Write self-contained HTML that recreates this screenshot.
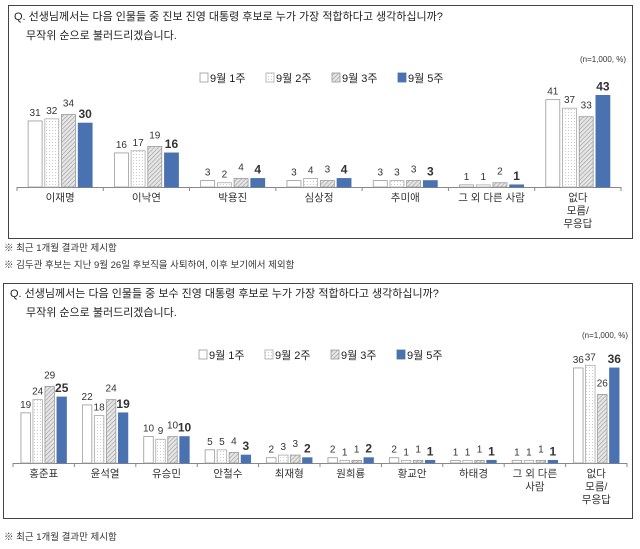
<!DOCTYPE html>
<html><head><meta charset="utf-8"><style>
body{margin:0;background:#fff;width:640px;height:549px;overflow:hidden;font-family:"Liberation Sans","Noto Sans CJK KR",sans-serif}
svg{position:absolute;left:0;top:0}
</style></head><body>
<svg id="s" width="640" height="549" font-family="Liberation Sans, Noto Sans CJK KR, sans-serif">
<defs>
<pattern id="dots" width="3" height="3" patternUnits="userSpaceOnUse"><rect width="3" height="3" fill="#fff"/><circle cx="1.5" cy="1.5" r="0.5" fill="#bbb"/></pattern>
<pattern id="hatch" width="3" height="3" patternUnits="userSpaceOnUse" patternTransform="rotate(45)"><rect width="3" height="3" fill="#e6e6e6"/><line x1="0" y1="0" x2="0" y2="3" stroke="#999" stroke-width="1.2"/></pattern>
</defs>
<rect x="8.5" y="5.5" width="624" height="233" fill="none" stroke="#444"/>
<text x="14" y="20" font-size="11" fill="#222">Q. 선생님께서는 다음 인물들 중 진보 진영 대통령 후보로 누가 가장 적합하다고 생각하십니까?</text>
<text x="26" y="39" font-size="11" fill="#222">무작위 순으로 불러드리겠습니다.</text>
<text x="626" y="62" font-size="8" fill="#333" text-anchor="end">(n=1,000, %)</text>
<rect x="3.5" y="283.5" width="629" height="235" fill="none" stroke="#444"/>
<text x="10" y="297" font-size="11" fill="#222">Q. 선생님께서는 다음 인물들 중 보수 진영 대통령 후보로 누가 가장 적합하다고 생각하십니까?</text>
<text x="26" y="316" font-size="11" fill="#222">무작위 순으로 불러드리겠습니다.</text>
<text x="628" y="338" font-size="8" fill="#333" text-anchor="end">(n=1,000, %)</text>
<text x="4" y="251" font-size="9.5" fill="#333">※ 최근 1개월 결과만 제시함</text>
<text x="4" y="268" font-size="9.5" fill="#333">※ 김두관 후보는 지난 9월 26일 후보직을 사퇴하여, 이후 보기에서 제외함</text>
<text x="4" y="540" font-size="9.5" fill="#333">※ 최근 1개월 결과만 제시함</text>
<g id="g1"></g><g id="g2"></g>
</svg>
<script>
const seriesNames=["9월 1주","9월 2주","9월 3주","9월 5주"];
const topCats=[["이재명"],["이낙연"],["박용진"],["심상정"],["추미애"],["그 외 다른 사람"],["없다","모름/","무응답"]];
const topW1=[31,16,3,3,3,1,41];
const topW2=[32,17,2,4,3,1,37];
const topW3=[34,19,4,3,3,2,33];
const topW5=[30,16,4,4,3,1,43];
const botCats=[["홍준표"],["윤석열"],["유승민"],["안철수"],["최재형"],["원희룡"],["황교안"],["하태경"],["그 외 다른","사람"],["없다","모름/","무응답"]];
const botW1=[19,22,10,5,2,2,2,1,1,36];
const botW2=[24,18,9,5,3,1,1,1,1,37];
const botW3=[29,24,10,4,3,1,1,1,1,26];
const botW5=[25,19,10,3,2,2,1,1,1,36];
const fills=["#fff","url(#dots)","url(#hatch)","#4a72b0"];
const strokes=["#999","#aaa","#999","#4a72b0"];
const NS="http://www.w3.org/2000/svg";
function mk(p,t,a){const e=document.createElementNS(NS,t);for(const k in a)e.setAttribute(k,a[k]);p.appendChild(e);return e;}
function chart(g,cats,series,o){
  const n=cats.length,gw=(o.x1-o.x0)/n;
  const y=v=>o.base-v*o.k;
  const ax=mk(g,'line',{x1:o.x0,x2:o.x1,y1:o.base+.5,y2:o.base+.5,stroke:'#888'});
  
  
  for(let i=0;i<=n;i++){const t=mk(g,'line',{x1:o.x0+i*gw,x2:o.x0+i*gw,y1:o.base,y2:o.base+4,stroke:'#888'});
    
    }
  cats.forEach((c,i)=>{
    const cx=o.x0+gw*(i+.5);
    const tot=4*o.bw+3*o.gap;
    series.forEach((s,j)=>{
      const bx=cx-tot/2+j*(o.bw+o.gap),v=s[i];
      const r=mk(g,'rect',{x:bx,y:y(v),width:o.bw,height:v*o.k,fill:fills[j],stroke:strokes[j],'stroke-width':0.8});
      
      
      const t=mk(g,'text',{x:bx+o.bw/2,y:y(v)-5-(j==2?3:0),'font-size':j==3?12:10,'font-weight':j==3?'bold':'normal','text-anchor':'middle',fill:'#333'});
      t.textContent=v;
      
      
    });
    c.forEach((ln,k)=>{const t=mk(g,'text',{x:cx,y:o.base+14+k*13,'font-size':10.5,'text-anchor':'middle',fill:'#333'});
      t.textContent=ln;
      
      });
  });
  let lx=o.lx;
  seriesNames.forEach((nm,j)=>{
    const r=mk(g,'rect',{x:lx,y:o.ly-9,width:8,height:9,fill:fills[j],stroke:strokes[j],'stroke-width':0.8});
    
    
    const t=mk(g,'text',{x:lx+10,y:o.ly,'font-size':11,fill:'#222'});
    t.textContent=nm;
    
    
    lx+=66;
  });
}
chart(document.getElementById('g1'),topCats,[topW1,topW2,topW3,topW5],{x0:17,x1:621,base:187,k:2.13,bw:14,gap:2.7,lx:200,ly:82});
chart(document.getElementById('g2'),botCats,[botW1,botW2,botW3,botW5],{x0:13,x1:627,base:463,k:2.64,bw:9.5,gap:2.5,lx:199,ly:359});
</script>
</body></html>
